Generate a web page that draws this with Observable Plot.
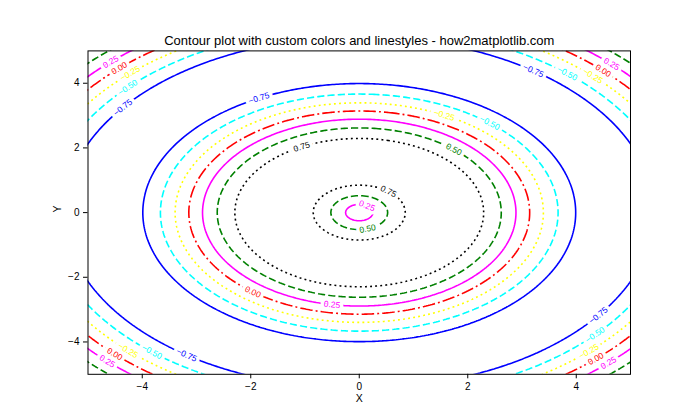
<!DOCTYPE html>
<html>
<head>
<meta charset="utf-8">
<script src="https://cdn.jsdelivr.net/npm/d3@7"></script>
<script src="https://cdn.jsdelivr.net/npm/@observablehq/plot@0.6"></script>
<style>
  html, body { margin: 0; padding: 0; background: white; }
</style>
</head>
<body>
<div id="chart"></div>
<script>
// ---- chart data ----
const titleText = "Contour plot with custom colors and linestyles - how2matplotlib.com";
const xTicks = [-4, -2, 0, 2, 4];
const yTicks = [-4, -2, 0, 2, 4];
const levels = [-0.75, -0.5, -0.25, 0, 0.25, 0.5, 0.75];
const levelColors = ["blue", "cyan", "yellow", "red", "magenta", "green", "black"];
const levelStyles = ["solid", "dashed", "dotted", "dashdot", "solid", "dashed", "dotted"];
// surface shown: Z = sin(sqrt(X^2 + Y^2)) on [-5, 5] x [-5, 5]
const surface = (x, y) => Math.sin(Math.hypot(x, y));

// inline contour labels (level, approx x, approx y)
const labelLevel = [0.25, 0, -0.25, -0.5, -0.75,
                    -0.75, -0.5, -0.25, 0, 0.25,
                    0.25, 0, -0.25, -0.5, -0.75,
                    -0.75, -0.5, -0.25, 0, 0.25,
                    -0.75, -0.25, -0.5, 0.5, 0.75, 0, 0.25,
                    0.75, 0.25, 0.5];
const labelX = [-4.62, -4.42, -4.22, -4.27, -4.36,
                3.21, 3.86, 4.32, 4.50, 4.67,
                -4.62, -4.49, -4.27, -3.79, -3.17,
                4.41, 4.30, 4.21, 4.32, 4.58,
                -1.86, 1.59, 2.42, 1.77, -1.08, -1.95, -0.49,
                0.56, 0.15, 0.15];
const labelY = [4.70, 4.46, 4.30, 3.87, 3.25,
                4.39, 4.33, 4.24, 4.39, 4.61,
                -4.57, -4.36, -4.27, -4.27, -4.39,
                -3.18, -3.74, -4.27, -4.48, -4.63,
                3.56, 3.06, 2.79, 1.98, 2.07, -2.44, -2.78,
                0.68, 0.22, -0.49];

// ---- layout ----
const W = 700, H = 420;
const mL = 87.5, mR = 70, mT = 50.4, mB = 46.2;
const pxX = (W - mL - mR) / 10, pxY = (H - mT - mB) / 10;
const dashPatterns = {solid: null, dashed: "7.2,3.1", dotted: "1.9,3.2", dashdot: "12.5,3.1,1.9,3.1"};
const fmt = d3.format(".2f");

// snap each label onto the exact contour of its level, compute on-screen rotation
const labels = labelLevel.map((l, i) => {
  const x0 = labelX[i], y0 = labelY[i];
  const r0 = Math.hypot(x0, y0), th = Math.atan2(y0, x0);
  const a = Math.asin(l);
  const cands = [];
  for (let k = -1; k <= 2; k++) { cands.push(a + 2 * Math.PI * k, Math.PI - a + 2 * Math.PI * k); }
  let r = cands.filter(c => c > 0).reduce((b, c) => Math.abs(c - r0) < Math.abs(b - r0) ? c : b, Infinity);
  const x = r * Math.cos(th), y = r * Math.sin(th);
  let ang = Math.atan2(-x * pxY, -y * pxX) * 180 / Math.PI;
  if (ang > 90) ang -= 180;
  if (ang <= -90) ang += 180;
  return {level: l, x, y, rotate: ang, text: fmt(l), color: levelColors[levels.indexOf(l)]};
});

const font = "Liberation Sans, Arial, sans-serif";

const marks = [];
levels.forEach((lv, i) => {
  marks.push(Plot.contour({
    value: surface,
    x1: -5.3, x2: 5.3, y1: -5.3, y2: 5.3,
    thresholds: [lv],
    fill: "none",
    stroke: levelColors[i],
    strokeWidth: 1.6,
    strokeDasharray: dashPatterns[levelStyles[i]],
    strokeLinecap: "butt",
    clip: true
  }));
});
levels.forEach((lv, i) => {
  marks.push(Plot.text(labels.filter(d => d.level === lv), {
    x: "x", y: "y", text: "text", rotate: "rotate",
    fill: levelColors[i], stroke: "white", strokeWidth: 7,
    fontSize: 8.5, fontFamily: font
  }));
});
marks.push(
  Plot.frame({stroke: "black", strokeWidth: 1}),
  Plot.axisX({ticks: xTicks, tickSize: 4.5, tickPadding: 4, label: null, fontSize: 10, fontFamily: font}),
  Plot.axisY({ticks: yTicks, tickSize: 4.5, tickPadding: 4, label: null, fontSize: 10, fontFamily: font}),
  Plot.text([titleText], {frameAnchor: "top", dy: -6, lineAnchor: "bottom", text: d => d, fontSize: 13, fill: "black", fontFamily: font}),
  Plot.text(["X"], {frameAnchor: "bottom", dy: 28, text: d => d, fontSize: 10.5, fill: "black", fontFamily: font}),
  Plot.text(["Y"], {frameAnchor: "left", dx: -30, rotate: -90, text: d => d, fontSize: 10.5, fill: "black", fontFamily: font})
);

const chart = Plot.plot({
  width: W, height: H,
  marginLeft: mL, marginRight: mR, marginTop: mT, marginBottom: mB,
  x: {domain: [-5, 5]},
  y: {domain: [-5, 5]},
  style: {background: "white", color: "black", fontFamily: font},
  marks
});
document.getElementById("chart").appendChild(chart);
</script>
</body>
</html>
